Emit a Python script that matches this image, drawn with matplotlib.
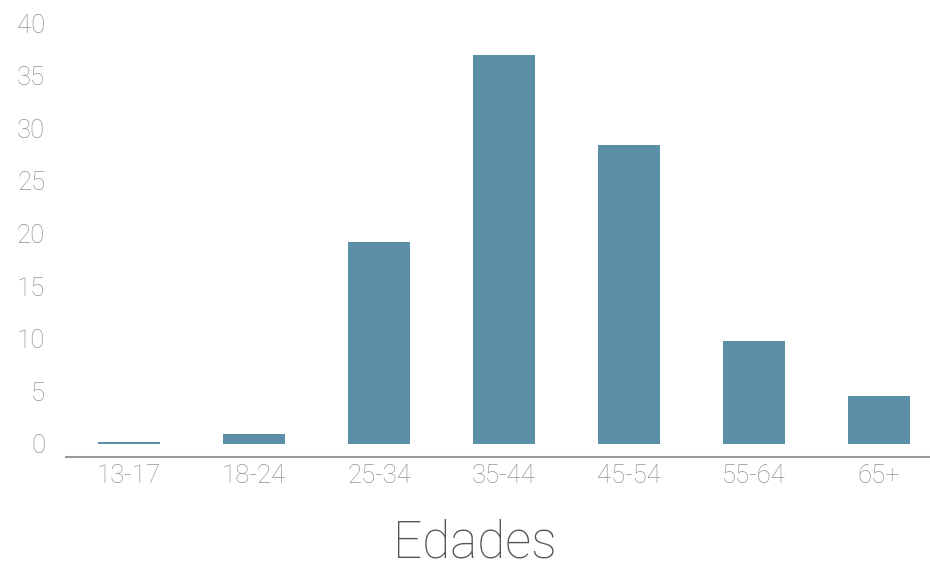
import matplotlib
matplotlib.use("Agg")
import matplotlib.pyplot as plt

# =========================
# DATA
# =========================
age_groups = ["13-17", "18-24", "25-34", "35-44", "45-54", "55-64", "65+"]
percent = [0.15, 0.95, 19.2, 37.0, 28.45, 9.8, 4.55]
y_ticks = [0, 5, 10, 15, 20, 25, 30, 35, 40]

bar_color = "#5b8fa8"
tick_color = "#939393"

plt.rcParams["font.family"] = ["Roboto", "DejaVu Sans"]

fig = plt.figure(figsize=(9.3, 5.66), dpi=100)
ax = fig.add_axes([66 / 930, 1 - 456.7 / 566, 864 / 930, (456.7 - 23.3) / 566])

x = list(range(len(age_groups)))
ax.bar(x, percent, width=0.5, color=bar_color)

ax.set_xlim(-0.506, 6.41)
ax.set_ylim(-1.24, 40)
ax.set_xticks(x)
ax.set_xticklabels(age_groups)
ax.set_yticks(y_ticks)

for side in ["top", "right", "left"]:
    ax.spines[side].set_visible(False)
ax.spines["bottom"].set_color("#9a9a9a")
ax.spines["bottom"].set_linewidth(1.5)

ax.tick_params(axis="both", length=0, labelsize=18.5, colors=tick_color)
ax.tick_params(axis="y", pad=15)
ax.tick_params(axis="x", pad=5)
for lbl in ax.get_xticklabels() + ax.get_yticklabels():
    lbl.set_fontweight("light")

fig.text(475 / 930, 1 - 543 / 566, "Edades", ha="center", va="center",
         fontsize=37, color="#555555", fontweight="light")

fig.savefig("out.png", dpi=100)
